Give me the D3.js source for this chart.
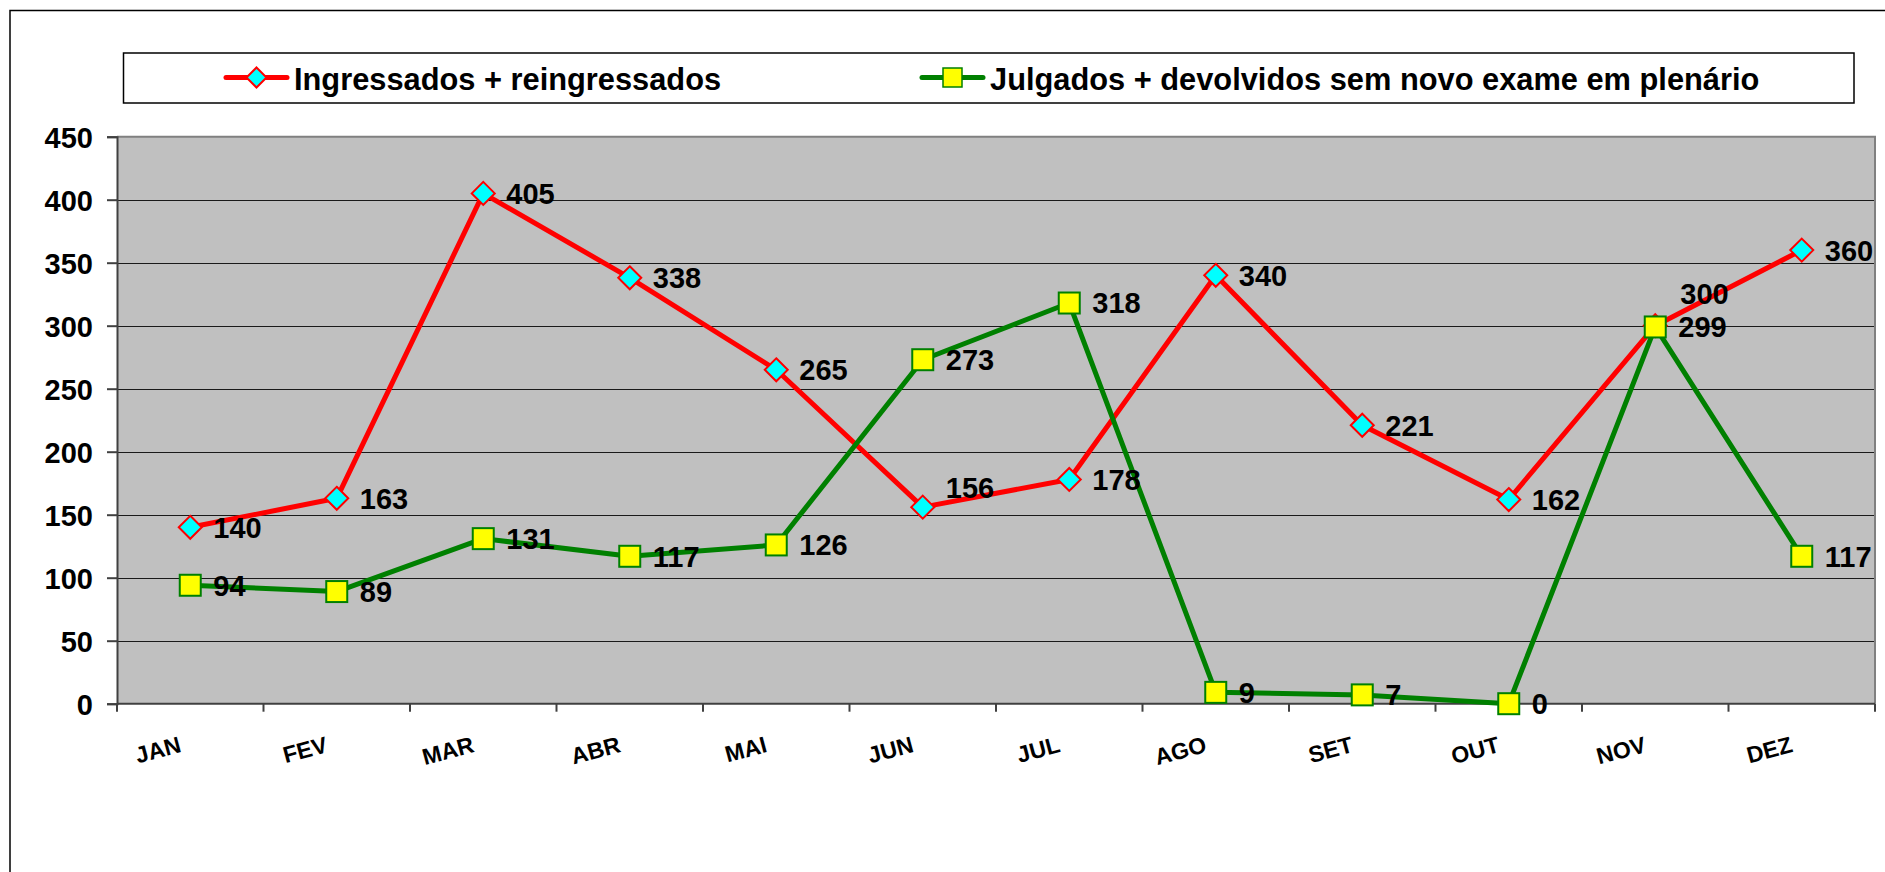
<!DOCTYPE html>
<html>
<head>
<meta charset="utf-8">
<script src="https://cdn.jsdelivr.net/npm/d3@7"></script>
<style>
  html, body { margin: 0; padding: 0; background: #fff; }
  svg { display: block; font-family: "Liberation Sans", Arial, sans-serif; font-weight: bold; }
</style>
</head>
<body>
<svg id="chart" width="1885" height="872"></svg>
<script>
// ---- data ----
const months = ["JAN", "FEV", "MAR", "ABR", "MAI", "JUN", "JUL", "AGO", "SET", "OUT", "NOV", "DEZ"];
const ingressados = [140, 163, 405, 338, 265, 156, 178, 340, 221, 162, 300, 360];
const julgados = [94, 89, 131, 117, 126, 273, 318, 9, 7, 0, 299, 117];
const seriesNames = ["Ingressados + reingressados", "Julgados + devolvidos sem novo exame em plenário"];
const yTicks = [0, 50, 100, 150, 200, 250, 300, 350, 400, 450];

// ---- layout ----
const svg = d3.select("#chart");
const plot = { left: 117, right: 1875, top: 136.7, bottom: 703.7 };

const x = d3.scaleBand().domain(months).range([plot.left, plot.right]);
const y = d3.scaleLinear().domain([0, 450]).range([plot.bottom, plot.top]);
const cx = m => x(m) + x.bandwidth() / 2;

// outer frame (extends beyond the right/bottom edges)
svg.append("rect")
  .attr("x", 10).attr("y", 10.5).attr("width", 1900).attr("height", 900)
  .attr("fill", "none").attr("stroke", "#000").attr("stroke-width", 1.5);

// plot background
svg.append("rect")
  .attr("x", plot.left).attr("y", plot.top)
  .attr("width", plot.right - plot.left).attr("height", plot.bottom - plot.top)
  .attr("fill", "#C0C0C0");

// gridlines
svg.append("g").selectAll("line")
  .data(yTicks.filter(t => t > 0 && t < 450))
  .join("line")
  .attr("x1", plot.left).attr("x2", plot.right)
  .attr("y1", d => Math.round(y(d)) + 0.5).attr("y2", d => Math.round(y(d)) + 0.5)
  .attr("stroke", "#1a1a1a").attr("stroke-width", 1.2);

// plot top / right border
svg.append("path")
  .attr("d", `M${plot.left},${plot.top}H${plot.right}V${plot.bottom}`)
  .attr("fill", "none").attr("stroke", "#808080").attr("stroke-width", 2);

// y axis
const yAxis = d3.axisLeft(y).tickValues(yTicks).tickSize(10).tickPadding(14);
const gy = svg.append("g").attr("transform", `translate(${plot.left},0)`).call(yAxis);
gy.select(".domain").attr("stroke", "#404040").attr("stroke-width", 2);
gy.selectAll(".tick line").attr("stroke", "#404040").attr("stroke-width", 2);
gy.selectAll(".tick text")
  .attr("fill", "#000").attr("font-size", 29).attr("font-weight", "bold")
  .attr("font-family", "Liberation Sans, Arial, sans-serif")
  .attr("dy", "0.36em");

// x axis (ticks between categories)
const gx = svg.append("g").attr("transform", `translate(0,${plot.bottom})`);
gx.append("line").attr("x1", plot.left).attr("x2", plot.right)
  .attr("stroke", "#404040").attr("stroke-width", 2);
gx.selectAll("line.tk").data(d3.range(months.length + 1)).join("line")
  .attr("class", "tk")
  .attr("x1", i => plot.left + i * x.bandwidth()).attr("x2", i => plot.left + i * x.bandwidth())
  .attr("y1", 0).attr("y2", 8)
  .attr("stroke", "#404040").attr("stroke-width", 2);
gx.selectAll("text").data(months).join("text")
  .attr("transform", d => `translate(${cx(d) - 8},${48}) rotate(-15)`)
  .attr("text-anchor", "end")
  .attr("font-size", 23)
  .attr("fill", "#000")
  .text(d => d);

// lines & markers
const line = d3.line().x((d, i) => cx(months[i])).y(d => y(d));

function diamond(sel, r) {
  sel.attr("d", `M0,${-r}L${r},0L0,${r}L${-r},0Z`);
}

// series 1
svg.append("path").datum(ingressados)
  .attr("d", line).attr("fill", "none")
  .attr("stroke", "#FF0000").attr("stroke-width", 5).attr("stroke-linejoin", "round");
svg.append("g").selectAll("path").data(ingressados).join("path")
  .attr("transform", (d, i) => `translate(${cx(months[i])},${y(d)})`)
  .call(diamond, 11.5)
  .attr("fill", "#00FFFF").attr("stroke", "#FF0000").attr("stroke-width", 2);

// series 2
svg.append("path").datum(julgados)
  .attr("d", line).attr("fill", "none")
  .attr("stroke", "#008000").attr("stroke-width", 5).attr("stroke-linejoin", "round");
svg.append("g").selectAll("rect").data(julgados).join("rect")
  .attr("x", (d, i) => cx(months[i]) - 10.5).attr("y", d => y(d) - 10.5)
  .attr("width", 21).attr("height", 21)
  .attr("fill", "#FFFF00").attr("stroke", "#008000").attr("stroke-width", 2);

// data labels (right of the point; a few nudged as in the original)
const nudge = { "0-5": [0, -20], "0-10": [2, -32] };
function labels(values, s) {
  svg.append("g").selectAll("text").data(values).join("text")
    .attr("x", (d, i) => cx(months[i]) + 23 + (nudge[s + "-" + i] || [0, 0])[0])
    .attr("y", (d, i) => y(d) + (nudge[s + "-" + i] || [0, 0])[1])
    .attr("dy", "0.36em")
    .attr("font-size", 29).attr("fill", "#000")
    .text(d => d);
}
labels(ingressados, 0);
labels(julgados, 1);

// legend
const lg = svg.append("g");
lg.append("rect").attr("x", 123.5).attr("y", 53).attr("width", 1854 - 123.5).attr("height", 50)
  .attr("fill", "#fff").attr("stroke", "#000").attr("stroke-width", 1.5);
const legendItems = [
  { name: seriesNames[0], x0: 226, color: "#FF0000", marker: "diamond" },
  { name: seriesNames[1], x0: 922, color: "#008000", marker: "square" }
];
legendItems.forEach(it => {
  const g = lg.append("g").attr("transform", `translate(${it.x0},77.5)`);
  g.append("line").attr("x1", 0).attr("x2", 61).attr("stroke", it.color).attr("stroke-width", 5)
    .attr("stroke-linecap", "round");
  if (it.marker === "diamond") {
    g.append("path").attr("transform", "translate(30.5,0)").call(diamond, 10)
      .attr("fill", "#00FFFF").attr("stroke", "#FF0000").attr("stroke-width", 2);
  } else {
    g.append("rect").attr("x", 21).attr("y", -9.5).attr("width", 19).attr("height", 19)
      .attr("fill", "#FFFF00").attr("stroke", "#008000").attr("stroke-width", 1.5);
  }
  g.append("text").attr("x", 68).attr("y", 12.5).attr("font-size", 30.8).attr("fill", "#000")
    .text(it.name);
});
</script>
</body>
</html>
